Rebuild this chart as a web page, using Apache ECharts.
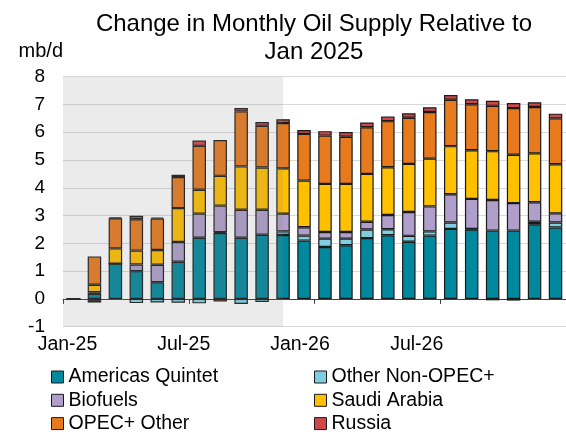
<!DOCTYPE html>
<html>
<head>
<meta charset="utf-8">
<script src="https://cdn.jsdelivr.net/npm/echarts@6/dist/echarts.min.js"></script>
<style>
    html, body {margin: 0; padding: 0; background: #fff;}
    #chart {width: 566px; height: 434px;}
</style>
</head>
<body>
<div id="chart"></div>
<script>
var months = ['Jan-25', 'Feb-25', 'Mar-25', 'Apr-25', 'May-25', 'Jun-25', 'Jul-25', 'Aug-25', 'Sep-25', 'Oct-25', 'Nov-25', 'Dec-25',
    'Jan-26', 'Feb-26', 'Mar-26', 'Apr-26', 'May-26', 'Jun-26', 'Jul-26', 'Aug-26', 'Sep-26', 'Oct-26', 'Nov-26', 'Dec-26'];

// mb/d change vs Jan 2025
var americasQuintet = [0, 0.18, 1.27, 1.0, 0.6, 1.34, 2.2, 2.37, 2.2, 2.31, 2.3, 2.1, 1.87, 1.93, 2.19, 2.29, 2.06, 2.28, 2.52, 2.5, 2.46, 2.46, 2.69, 2.57];
var otherNonOpec = [0, -0.07, 0, -0.15, -0.13, -0.14, -0.16, 0.03, -0.18, -0.11, 0.13, 0.18, 0.3, 0.24, 0.31, 0.22, 0.21, 0.15, 0.23, 0.02, -0.05, -0.06, 0.09, 0.18];
var biofuels = [0, 0.06, 0, 0.24, 0.63, 0.71, 0.87, 0.96, 1.01, 0.9, 0.64, 0.3, 0.24, 0.24, 0.28, 0.51, 0.86, 0.9, 1.02, 1.08, 1.1, 0.99, 0.7, 0.33];
var saudiArabia = [0, 0.27, 0.55, 0.5, 0.53, 1.22, 0.86, 1.07, 1.56, 1.52, 1.63, 1.68, 1.73, 1.73, 1.72, 1.72, 1.73, 1.72, 1.73, 1.75, 1.76, 1.74, 1.76, 1.77];
var opecOther = [0, 1.02, 1.08, 1.13, 1.13, 1.12, 1.58, 1.29, 1.98, 1.5, 1.63, 1.68, 1.74, 1.7, 1.68, 1.66, 1.66, 1.68, 1.67, 1.66, 1.63, 1.68, 1.67, 1.65];
var russia = [0, -0.06, 0.04, 0.12, 0.04, 0.08, 0.19, -0.09, 0.12, 0.14, 0.14, 0.14, 0.16, 0.17, 0.17, 0.17, 0.16, 0.17, 0.17, 0.18, 0.18, 0.18, 0.17, 0.17];

// historical period (grey box), in month units from the left edge
var shadedSpan = [0, 10.5];

var FONT = 'Liberation Sans, Arial, sans-serif';

// the original's date labels sit a bit left of the month they belong to
var labelPad = {0: 12, 6: 31, 12: 50, 18: 68};

function buildRich() {
    var rich = {};
    for (var k in labelPad) {
        rich['s' + k] = {
            fontFamily: FONT, fontSize: 19.5, color: '#000',
            padding: [0, labelPad[k], 0, 0]
        };
    }
    return rich;
}

function barSeries(name, data, color) {
    return {
        name: name,
        type: 'bar',
        stack: 'total',
        barWidth: 13.5,
        xAxisIndex: 0,
        itemStyle: {color: color, borderColor: '#1a1a1a', borderWidth: 1.2},
        data: data
    };
}

/**
 * One legend column (the original lays the keys out in two columns).
 */
function legendColumn(left, names) {
    return {
        orient: 'vertical',
        left: left,
        top: 367,
        height: 120,
        padding: 0,
        itemWidth: 12,
        itemHeight: 12,
        itemGap: 3.3,
        icon: 'rect',
        itemStyle: {borderColor: '#1a1a1a', borderWidth: 1},
        textStyle: {fontFamily: FONT, fontSize: 19.5, color: '#000', lineHeight: 20},
        data: names
    };
}

var chart = echarts.init(document.getElementById('chart'));

var option = {
    animation: false,
    backgroundColor: '#fff',
    title: {
        text: 'Change in Monthly Oil Supply Relative to\nJan 2025',
        left: 309,
        top: 5,
        textAlign: 'center',
        textStyle: {fontFamily: FONT, fontSize: 24, fontWeight: 'normal', color: '#000', lineHeight: 28}
    },
    legend: [
        legendColumn(51, ['Americas Quintet', 'Biofuels', 'OPEC+ Other']),
        legendColumn(314, ['Other Non-OPEC+', 'Saudi Arabia', 'Russia'])
    ],
    grid: {left: 63, right: 0, top: 76.7, bottom: 107.3},
    xAxis: [
        {
            type: 'category',
            data: months,
            axisLine: {onZero: true, lineStyle: {color: '#404040', width: 1}},
            axisTick: {show: true, interval: 5, length: 5, lineStyle: {color: '#404040'}},
            axisLabel: {show: false},
            splitLine: {show: false}
        },
        {
            type: 'category',
            data: months,
            position: 'bottom',
            axisLine: {show: false, onZero: false},
            axisTick: {show: false},
            axisLabel: {
                margin: 8,
                interval: function (index) { return index % 6 === 0; },
                formatter: function (value, index) { return '{s' + index + '|' + value + '}'; },
                rich: buildRich()
            }
        },
        {type: 'value', min: 0, max: months.length, show: false}
    ],
    yAxis: {
        type: 'value',
        min: -1,
        max: 8,
        interval: 1,
        name: 'mb/d',
        nameLocation: 'end',
        nameGap: 25,
        nameTextStyle: {fontFamily: FONT, fontSize: 20, color: '#000', align: 'right', verticalAlign: 'middle'},
        axisLine: {show: false},
        axisTick: {show: false},
        axisLabel: {fontFamily: FONT, fontSize: 19, color: '#000', margin: 18},
        splitLine: {lineStyle: {color: '#d9d9d9', width: 1}}
    },
    series: [
        barSeries('Americas Quintet', americasQuintet, '#00889e'),
        barSeries('Other Non-OPEC+', otherNonOpec, '#7fcfe0'),
        barSeries('Biofuels', biofuels, '#b09fca'),
        barSeries('Saudi Arabia', saudiArabia, '#ffc000'),
        barSeries('OPEC+ Other', opecOther, '#e87a1e'),
        barSeries('Russia', russia, '#d0474a'),
        {
            name: 'shade',
            type: 'line',
            xAxisIndex: 2,
            data: [],
            silent: true,
            markArea: {
                silent: true,
                z: 5,
                itemStyle: {color: 'rgba(131,131,131,0.16)'},
                data: [[{xAxis: shadedSpan[0]}, {xAxis: shadedSpan[1]}]]
            }
        }
    ]
};

chart.setOption(option);
</script>
</body>
</html>
